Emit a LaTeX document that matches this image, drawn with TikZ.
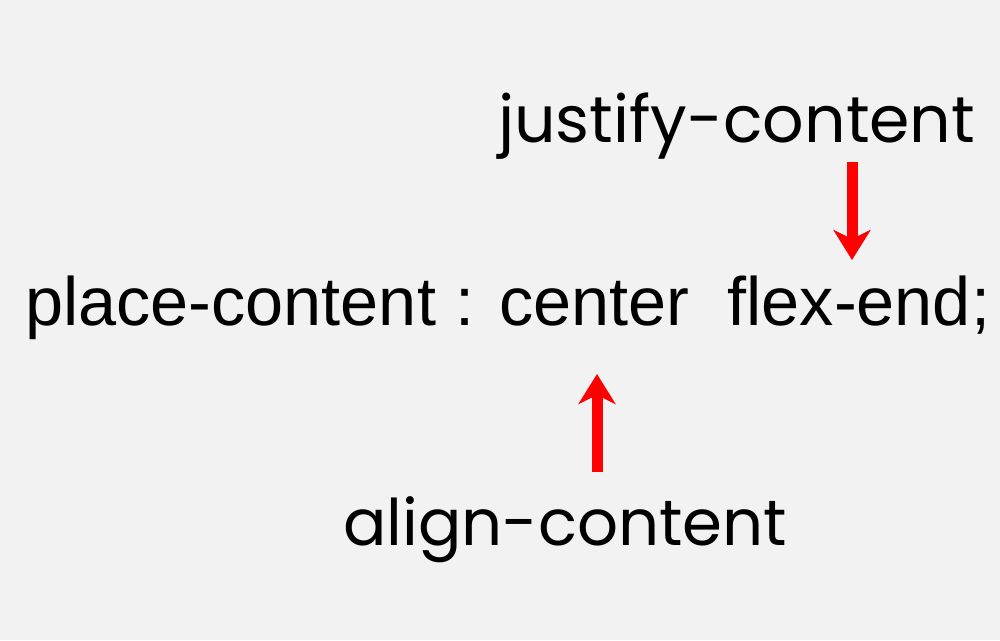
\documentclass[tikz,border=0pt]{standalone}
\usepackage{fontspec}
\setmainfont{Liberation Sans}
\newfontfamily\popfont{Poppins}
\usetikzlibrary{arrows.meta}
\definecolor{bg}{HTML}{F2F2F2}
\definecolor{arrred}{HTML}{FF0000}
\tikzset{
  lbl/.style={inner sep=0pt, anchor=base west, font=\popfont},
  code/.style={inner sep=0pt, anchor=base west},
  redarrow/.style={draw=arrred, line width=11pt,
    -{Stealth[length=30pt,width=37pt,inset=9pt]}}
}
\begin{document}
\begin{tikzpicture}[x=1pt,y=-1pt]
\fill[bg] (0,0) rectangle (1000,640);
\useasboundingbox (0,0) rectangle (1000,640);
\node[code] (main) at (25,325) {\resizebox{965pt}{!}{place-content : center\ \ flex-end;}};
\node[lbl] (just) at (498,142) {\resizebox{477pt}{!}{justify-content}};
\node[lbl] (align) at (343,545) {\resizebox{444pt}{!}{align-content}};
\coordinate (j1) at (852,162);
\coordinate (j2) at (852,260);
\coordinate (a1) at (597,472);
\coordinate (a2) at (597,374);
\draw[redarrow] (j1) -- (j2);
\draw[redarrow] (a1) -- (a2);
\end{tikzpicture}
\end{document}
